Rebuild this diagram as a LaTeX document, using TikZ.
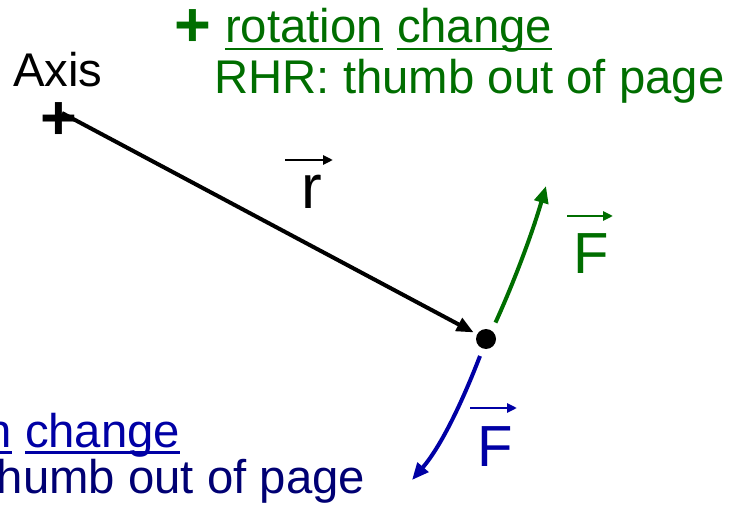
\documentclass[tikz,border=0pt]{standalone}
\usepackage{fontspec}
\setmainfont{Liberation Sans}
\usetikzlibrary{arrows.meta}
\definecolor{pgreen}{RGB}{0,110,0}
\definecolor{pblue}{RGB}{0,0,165}
\definecolor{pnavy}{RGB}{0,0,115}
\begin{document}
\begin{tikzpicture}[x=1pt,y=-1pt,
  txt/.style={inner sep=0pt,outer sep=0pt,font=\fontsize{47.3}{49}\selectfont},
  big/.style={inner sep=0pt,outer sep=0pt,font=\fontsize{58}{58}\selectfont},
  plus/.style={inner sep=0pt,outer sep=0pt,font=\fontsize{63}{63}\selectfont\bfseries},
  uline/.style={line width=2.5pt},
  force/.style={line width=4pt,-{Triangle[length=17pt,width=14pt]}},
  vecacc/.style={line width=2.6pt,-{Triangle[length=10pt,width=9pt]}}]
\useasboundingbox (0,0) rectangle (734,505);
\clip (0,0) rectangle (734,505);

% top green label
\node[plus,text=pgreen,anchor=center] (gplus) at (192.5,28) {+};
\node[txt,text=pgreen,anchor=base west] (rot) at (225,43) {rotation};
\node[txt,text=pgreen,anchor=base west] (chg) at (397,43) {change};
\draw[pgreen,uline] ([yshift=-6pt]rot.base west) -- ([yshift=-6pt]rot.base east);
\draw[pgreen,uline] ([yshift=-6pt]chg.base west) -- ([yshift=-6pt]chg.base east);
\node[txt,text=pgreen,anchor=base west] (rhr) at (214.5,94) {RHR: thumb out of page};

% axis
\node[txt,anchor=base west] (axis) at (13,87) {Axis};
\node[plus,anchor=center] (aplus) at (59,121) {+};
\coordinate (ax) at (62,113);

% particle
\node[circle,fill=black,minimum size=20pt,inner sep=0pt,outer sep=4pt] (dot) at (486,339) {};

% r vector
\draw[force] (ax) -- (dot);
\node[big,font=\fontsize{62}{62}\selectfont,anchor=base west] (r) at (301,209) {r};
\draw[vecacc] ([shift={(-16,-49)}]r.base west) -- ([shift={(32,-49)}]r.base west);

% green force
\coordinate (gtip) at (546,186);
\draw[pgreen,force,shorten <=5pt] (dot.58) .. controls (514,282) and (532,234) .. (gtip);
\node[big,text=pgreen,anchor=base west] (gF) at (573,273) {F};
\draw[pgreen,vecacc] ([shift={(-6,-57)}]gF.base west) -- ([shift={(40,-57)}]gF.base west);

% blue force
\coordinate (btip) at (412,480);
\draw[pblue,force,shorten <=4pt] (dot.-109) .. controls (465,395) and (443,444) .. (btip);
\node[big,text=pblue,anchor=base west] (bF) at (477,466) {F};
\draw[pblue,vecacc] ([shift={(-7,-58)}]bF.base west) -- ([shift={(40,-58)}]bF.base west);

% bottom blue label (cut by the page edge)
\node[txt,text=pblue,anchor=base east] (bn) at (12,447) {n};
\node[txt,text=pblue,anchor=base west] (bchg) at (25,447) {change};
\draw[pblue,uline] ([yshift=-5.5pt]bn.base west) -- ([yshift=-5.5pt]bn.base east);
\draw[pblue,uline] ([yshift=-5.5pt]bchg.base west) -- ([yshift=-5.5pt]bchg.base east);
\node[txt,text=pnavy,anchor=base west] (bthumb) at (-3,493) {humb out of page};
\end{tikzpicture}
\end{document}
